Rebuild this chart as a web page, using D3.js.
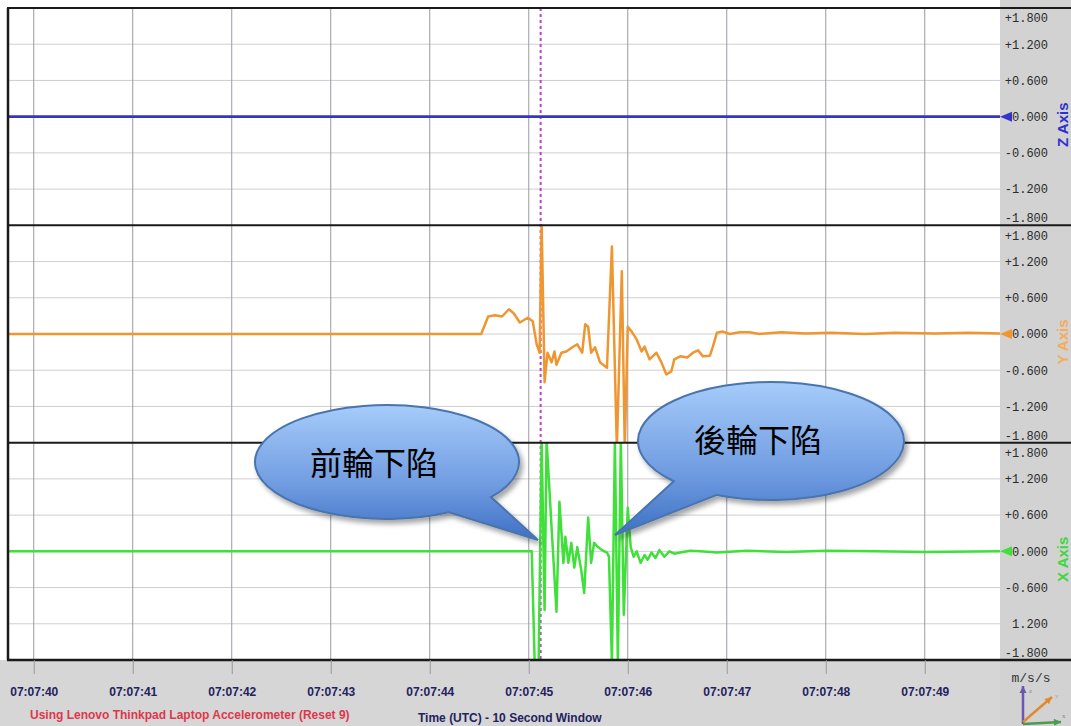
<!DOCTYPE html>
<html>
<head>
<meta charset="utf-8">
<script src="https://cdn.jsdelivr.net/npm/d3@7"></script>
<style>
  html, body { margin: 0; padding: 0; background: #ffffff; }
  svg { display: block; }
</style>
</head>
<body>
<svg id="chart" width="1071" height="726"></svg>
<script>
// Time is stored as seconds past 07:07:00 (UTC).
const tickSeconds = [40, 41, 42, 43, 44, 45, 46, 47, 48, 49];
const tickLabels = ["07:07:40", "07:07:41", "07:07:42", "07:07:43", "07:07:44",
                    "07:07:45", "07:07:46", "07:07:47", "07:07:48", "07:07:49"];
const windowStart = 39.74;
const windowEnd = 49.76;

// Acceleration axis ticks (m/s/s), shared by all three channels
const accelTicks = [1.8, 1.2, 0.6, 0, -0.6, -1.2, -1.8];
const zTickLabels = ["+1.800", "+1.200", "+0.600", "0.000", "-0.600", "-1.200", "-1.800"];
const yTickLabels = ["+1.800", "+1.200", "+0.600", "0.000", "-0.600", "-1.200", "-1.800"];
const xTickLabels = ["+1.800", "+1.200", "+0.600", "0.000", "-0.600", "1.200", "-1.800"];

// Z channel: no movement over the window
const zTime = [39.74, 49.76];
const zValue = [0, 0];

// Y channel
const yTime = [39.74, 44.52, 44.59, 44.66, 44.73, 44.80, 44.85, 44.91, 44.99, 45.04,
               45.08, 45.11, 45.13, 45.16, 45.19, 45.23, 45.26, 45.28, 45.33, 45.38,
               45.44, 45.49, 45.54, 45.57, 45.60, 45.63, 45.67, 45.72, 45.79, 45.84,
               45.89, 45.94, 45.97, 46.00, 46.04, 46.09, 46.14, 46.17, 46.22, 46.29,
               46.34, 46.39, 46.44, 46.47, 46.53, 46.60, 46.66, 46.71, 46.76, 46.83,
               46.86, 46.90, 46.96, 47.03, 47.13, 47.23, 47.33, 47.55, 47.80, 48.05,
               48.40, 48.70, 49.10, 49.45, 49.76];
const yValue = [0, 0, 0.29, 0.31, 0.29, 0.41, 0.34, 0.19, 0.27, 0.21,
                -0.17, -0.31, 1.85, -0.80, -0.31, -0.47, -0.29, -0.51, -0.31, -0.29,
                -0.22, -0.17, -0.31, 0.16, 0.12, -0.31, -0.22, -0.47, -0.56, 1.45,
                -1.9, 1.04, -1.9, 0.12, 0.04, -0.09, -0.29, -0.21, -0.42, -0.31,
                -0.47, -0.67, -0.62, -0.42, -0.37, -0.39, -0.31, -0.27, -0.37, -0.36,
                -0.21, 0.02, 0.04, 0.00, 0.03, 0.03, 0.00, 0.03, 0.01, 0.02,
                0.00, 0.02, 0.01, 0.02, 0.01];

// X channel
const xTime = [39.74, 45.03, 45.06, 45.10, 45.13, 45.16, 45.18, 45.23, 45.28, 45.31,
               45.35, 45.37, 45.40, 45.43, 45.46, 45.49, 45.53, 45.56, 45.60, 45.63,
               45.66, 45.70, 45.74, 45.79, 45.81, 45.84, 45.87, 45.90, 45.93, 45.96,
               46.00, 46.03, 46.06, 46.09, 46.13, 46.17, 46.20, 46.24, 46.28, 46.32,
               46.37, 46.42, 46.47, 46.53, 46.63, 46.73, 46.90, 47.20, 47.60, 48.00,
               48.50, 49.00, 49.76];
const xValue = [0, 0, -1.85, -1.85, 1.85, -0.97, 1.85, 0.41, -1.0, 0.82,
                -0.19, 0.24, -0.19, 0.14, -0.27, 0.07, -0.31, -0.69, 0.56, -0.19,
                0.14, 0.07, 0.02, -0.02, -0.09, -1.85, 1.85, -1.85, 1.85, -1.05,
                0.72, 0.07, -0.09, 0, -0.19, -0.06, -0.14, -0.02, -0.11, 0.02,
                -0.09, 0, -0.04, -0.02, 0.01, 0, -0.02, 0.01, -0.01, 0.01,
                0, -0.01, 0];

// Event marker (front wheel drop)
const eventTime = 45.12;

// Callout texts
const calloutTexts = ["前輪下陷", "後輪下陷"];

// ---------------------------------------------------------------------------
const svg = d3.select("#chart");
const W = 1071, H = 726;
const plotLeft = 8, plotRight = 1000, plotTop = 8, plotBottom = 660;
const panelH = (plotBottom - plotTop) / 3;

const channels = [
  { name: "Z Axis", time: zTime, value: zValue, labels: zTickLabels, color: "#3434c8", width: 2.8, labelColor: "#2f2fd0" },
  { name: "Y Axis", time: yTime, value: yValue, labels: yTickLabels, color: "#ef9630", width: 2.5, labelColor: "#f4ad5a" },
  { name: "X Axis", time: xTime, value: xValue, labels: xTickLabels, color: "#3fe03a", width: 2.5, labelColor: "#3fd63f" }
];

const x = d3.scaleLinear().domain([windowStart, windowEnd]).range([plotLeft, plotRight]);

// Backgrounds
svg.append("rect").attr("x", 0).attr("y", 0).attr("width", W).attr("height", H).attr("fill", "#ffffff");
svg.append("rect").attr("x", 0).attr("y", plotBottom).attr("width", W).attr("height", H - plotBottom).attr("fill", "#d6d6d6");
svg.append("rect").attr("x", plotRight).attr("y", 0).attr("width", W - plotRight).attr("height", H).attr("fill", "#d2d2d2");

const defs = svg.append("defs");

channels.forEach((ch, i) => {
  const top = plotTop + i * panelH;
  const bottom = top + panelH;
  const y = d3.scaleLinear().domain([-1.8, 1.8]).range([bottom, top]);
  ch.y = y;
  ch.top = top;
  ch.bottom = bottom;

  defs.append("clipPath").attr("id", "clip" + i)
    .append("rect").attr("x", plotLeft).attr("y", top).attr("width", plotRight - plotLeft).attr("height", panelH);

  const g = svg.append("g");

  // horizontal grid
  g.selectAll("line.hgrid").data(accelTicks.filter(v => Math.abs(v) < 1.8)).join("line")
    .attr("class", "hgrid")
    .attr("x1", plotLeft).attr("x2", plotRight)
    .attr("y1", d => y(d)).attr("y2", d => y(d))
    .attr("stroke", "#cfcfcf").attr("stroke-width", 1);

  // vertical grid
  g.selectAll("line.vgrid").data(tickSeconds).join("line")
    .attr("class", "vgrid")
    .attr("x1", d => x(d)).attr("x2", d => x(d))
    .attr("y1", top).attr("y2", bottom)
    .attr("stroke", "#9a9aa6").attr("stroke-width", 1);
});

// event marker line
svg.append("line")
  .attr("x1", x(eventTime)).attr("x2", x(eventTime))
  .attr("y1", plotTop).attr("y2", plotBottom)
  .attr("stroke", "#c040c8").attr("stroke-width", 2).attr("stroke-dasharray", "3,3");

// series
channels.forEach((ch, i) => {
  const pts = ch.time.map((t, k) => [t, ch.value[k]]);
  const line = d3.line().x(d => x(d[0])).y(d => ch.y(d[1]));
  svg.append("path")
    .attr("clip-path", "url(#clip" + i + ")")
    .attr("d", line(pts))
    .attr("fill", "none")
    .attr("stroke", ch.color)
    .attr("stroke-width", ch.width)
    .attr("stroke-linejoin", "round");
});

// panel borders
const borderG = svg.append("g");
[0, 1, 2, 3].forEach(i => {
  const yy = plotTop + i * panelH;
  borderG.append("line")
    .attr("x1", plotLeft - 1).attr("x2", W)
    .attr("y1", yy).attr("y2", yy)
    .attr("stroke", "#1a1a1a").attr("stroke-width", i === 3 ? 2.5 : 2);
});
borderG.append("line")
  .attr("x1", plotLeft).attr("x2", plotLeft)
  .attr("y1", plotTop).attr("y2", plotBottom)
  .attr("stroke", "#1a1a1a").attr("stroke-width", 2.5);

// right-hand axes, zero markers and channel names
channels.forEach((ch, i) => {
  const axis = d3.axisRight(ch.y)
    .tickValues(accelTicks)
    .tickSize(0)
    .tickFormat((d, k) => ch.labels[k]);
  const ag = svg.append("g").attr("transform", `translate(${plotRight},0)`).call(axis);
  ag.select(".domain").remove();
  ag.selectAll("text")
    .attr("x", 48)
    .attr("text-anchor", "end")
    .attr("font-family", "'Liberation Mono', 'DejaVu Sans Mono', monospace")
    .attr("font-size", 12)
    .attr("fill", "#2a2a2a")
    .attr("dy", d => d === 1.8 ? "1.15em" : d === -1.8 ? "-0.3em" : "0.32em");

  // zero marker
  const y0 = ch.y(0);
  svg.append("path")
    .attr("d", `M${plotRight},${y0} L${plotRight + 12},${y0 - 5} L${plotRight + 12},${y0 + 5} Z`)
    .attr("fill", ch.color);

  // channel title
  const cy = (ch.top + ch.bottom) / 2 + 8;
  svg.append("text")
    .attr("transform", `translate(1062,${cy}) rotate(-90)`)
    .attr("text-anchor", "middle")
    .attr("dominant-baseline", "central")
    .attr("font-family", "'Liberation Sans', Arial, sans-serif")
    .attr("font-weight", "bold")
    .attr("font-size", 15)
    .attr("fill", ch.labelColor)
    .text(ch.name);
});

// time axis
const xAxis = d3.axisBottom(x)
  .tickValues(tickSeconds)
  .tickSize(14)
  .tickPadding(13)
  .tickFormat((d, k) => tickLabels[k]);
const xg = svg.append("g").attr("transform", `translate(0,${plotBottom})`).call(xAxis);
xg.select(".domain").remove();
xg.selectAll(".tick line").attr("stroke", "#9a9a9a").attr("stroke-width", 1);
xg.selectAll("text")
  .attr("font-family", "'Liberation Sans', Arial, sans-serif")
  .attr("font-weight", "bold")
  .attr("font-size", 12)
  .attr("fill", "#22225e");

// footer captions
svg.append("text")
  .attr("x", 30).attr("y", 719)
  .attr("font-family", "'Liberation Sans', Arial, sans-serif")
  .attr("font-weight", "bold").attr("font-size", 12)
  .attr("fill", "#e0364a")
  .text("Using Lenovo Thinkpad Laptop Accelerometer (Reset 9)");
svg.append("text")
  .attr("x", 418).attr("y", 722)
  .attr("font-family", "'Liberation Sans', Arial, sans-serif")
  .attr("font-weight", "bold").attr("font-size", 12)
  .attr("fill", "#22225e")
  .text("Time (UTC) - 10 Second Window");

// units
svg.append("text")
  .attr("x", 1031).attr("y", 682)
  .attr("text-anchor", "middle")
  .attr("font-family", "'Liberation Mono', 'DejaVu Sans Mono', monospace")
  .attr("font-size", 13)
  .attr("fill", "#333333")
  .text("m/s/s");

// orientation glyph
const icon = svg.append("g");
function arrow(x1, y1, x2, y2, color) {
  icon.append("line").attr("x1", x1).attr("y1", y1).attr("x2", x2).attr("y2", y2)
    .attr("stroke", color).attr("stroke-width", 2.5);
  const a = Math.atan2(y2 - y1, x2 - x1);
  const s = 7;
  const p1 = [x2 - s * Math.cos(a) + 3.5 * Math.sin(a), y2 - s * Math.sin(a) - 3.5 * Math.cos(a)];
  const p2 = [x2 - s * Math.cos(a) - 3.5 * Math.sin(a), y2 - s * Math.sin(a) + 3.5 * Math.cos(a)];
  icon.append("path").attr("d", `M${x2},${y2} L${p1[0]},${p1[1]} L${p2[0]},${p2[1]} Z`).attr("fill", color);
}
arrow(1023, 724, 1023, 686, "#6a56b0");
arrow(1023, 724, 1061, 722, "#4f9a4f");
arrow(1023, 722, 1052, 697, "#e08a2c");
icon.append("text").attr("x", 1029).attr("y", 693).attr("font-size", 7).attr("fill", "#888").text("z");
icon.append("text").attr("x", 1055).attr("y", 698).attr("font-size", 7).attr("fill", "#aaa").text("y");
icon.append("text").attr("x", 1062).attr("y", 718).attr("font-size", 7).attr("fill", "#888").text("x");

// callouts
const grad = defs.append("linearGradient").attr("id", "bubbleFill")
  .attr("x1", 0).attr("y1", 0).attr("x2", 0).attr("y2", 1);
grad.append("stop").attr("offset", "0%").attr("stop-color", "#a6ccfa");
grad.append("stop").attr("offset", "60%").attr("stop-color", "#6f9be0");
grad.append("stop").attr("offset", "100%").attr("stop-color", "#3e70c4");

const shadow = defs.append("filter").attr("id", "bubbleShadow")
  .attr("x", "-10%").attr("y", "-10%").attr("width", "130%").attr("height", "140%");
shadow.append("feDropShadow").attr("dx", 3).attr("dy", 4).attr("stdDeviation", 2.5)
  .attr("flood-color", "#000").attr("flood-opacity", 0.35);

// each callout: ellipse centre/radii, tail base angles (deg) and tail tip
const bubbles = [
  { cx: 387, cy: 462, rx: 132, ry: 57, a1: 38, a2: 62, tip: [538, 540], tx: 374, ty: 461, text: calloutTexts[0] },
  { cx: 771, cy: 441, rx: 133, ry: 59, a1: 114, a2: 137, tip: [615, 535], tx: 758, ty: 438, text: calloutTexts[1] }
];

bubbles.forEach(b => {
  const pt = a => [b.cx + b.rx * Math.cos(a * Math.PI / 180), b.cy + b.ry * Math.sin(a * Math.PI / 180)];
  const p1 = pt(b.a1), p2 = pt(b.a2);
  const d = `M${p1[0]},${p1[1]} A${b.rx},${b.ry} 0 1 0 ${p2[0]},${p2[1]} L${b.tip[0]},${b.tip[1]} Z`;
  svg.append("path")
    .attr("d", d)
    .attr("fill", "url(#bubbleFill)")
    .attr("stroke", "#4a74ae")
    .attr("stroke-width", 2)
    .attr("stroke-linejoin", "miter")
    .attr("filter", "url(#bubbleShadow)");
  svg.append("text")
    .attr("x", b.tx).attr("y", b.ty)
    .attr("text-anchor", "middle")
    .attr("dominant-baseline", "central")
    .attr("font-family", "'Noto Sans CJK TC', 'Noto Sans CJK SC', sans-serif")
    .attr("font-size", 32)
    .attr("fill", "#000000")
    .text(b.text);
});
</script>
</body>
</html>
